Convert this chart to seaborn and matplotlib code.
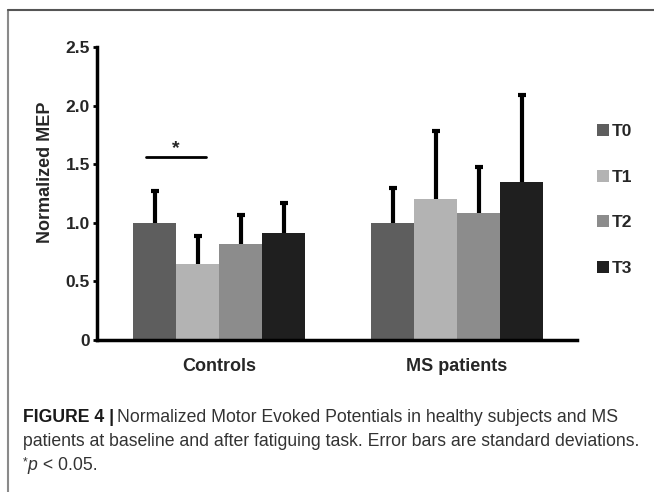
import matplotlib
matplotlib.use("Agg")
import matplotlib.pyplot as plt
import seaborn as sns
import pandas as pd
import numpy as np
from matplotlib.lines import Line2D
from matplotlib.patches import Patch

groups = ["Controls", "MS patients"]
times = ["T0", "T1", "T2", "T3"]
means_controls = [1.00, 0.65, 0.82, 0.91]
means_ms = [1.00, 1.20, 1.08, 1.345]
sd_controls = [0.27, 0.235, 0.25, 0.255]
sd_ms = [0.30, 0.58, 0.395, 0.745]
colors = ["#5e5e5e", "#b3b3b3", "#8c8c8c", "#1f1f1f"]
yticks = [0, 0.5, 1.0, 1.5, 2.0, 2.5]
ytick_labels = ["0", "0.5", "1.0", "1.5", "2.0", "2.5"]
sig_y = 1.56

sns.set_theme(style="white")
plt.rcParams["font.family"] = ["Liberation Sans", "DejaVu Sans"]

rows = []
for g, ms, sds in [(groups[0], means_controls, sd_controls), (groups[1], means_ms, sd_ms)]:
    for t, m, s in zip(times, ms, sds):
        rows.append({"group": g, "time": t, "mean": m, "sd": s})
df = pd.DataFrame(rows)

W, H = 654, 492
fig = plt.figure(figsize=(W / 100, H / 100), dpi=100)
ax = fig.add_axes([97 / W, (H - 340) / H, 480 / W, 293 / H])

sns.barplot(data=df, x="group", y="mean", hue="time", hue_order=times, order=groups,
            palette=colors, width=0.723, errorbar=None, linewidth=0, ax=ax, legend=False)

# error bars (upper only)
bar_info = []
for p in ax.patches:
    if p.get_width() > 0:
        bar_info.append((p.get_x() + p.get_width() / 2, p.get_height()))
bar_info.sort()
ordered = df.sort_values(["group", "time"]).reset_index(drop=True)
for (cx, h), (_, r) in zip(bar_info, ordered.iterrows()):
    cont = ax.errorbar(cx, r["mean"], yerr=[[0], [r["sd"]]], fmt="none", ecolor="black",
                       elinewidth=3, capsize=3.2, capthick=3)
    cont[1][0].set_visible(False)

ax.set_xlim(-0.513, 1.504)
ax.set_ylim(0, 2.5)
ax.set_yticks(yticks)
ax.set_yticklabels(ytick_labels, fontsize=12.5, fontweight="bold")
ax.set_xticks([0, 1])
ax.set_xticklabels(groups, fontsize=13, fontweight="bold")
ax.tick_params(axis="x", length=0, pad=13)
ax.tick_params(axis="y", length=3, width=2, direction="out", left=True, pad=2, color="black")
ax.set_xlabel("")
ax.set_ylabel("")
for s in ["top", "right"]:
    ax.spines[s].set_visible(False)
for s in ["left", "bottom"]:
    ax.spines[s].set_linewidth(2.5)
    ax.spines[s].set_color("black")
ax.set_facecolor("white")

# significance line
c0 = bar_info[0][0]
c1 = bar_info[1][0]
ax.plot([c0 - 0.035, c1 + 0.035], [sig_y, sig_y], color="black", lw=2)
ax.text((c0 + c1) / 2, sig_y + 0.0, "*", ha="center", va="bottom", fontsize=14, fontweight="bold")

# y label
fig.text(45 / W, 1 - 172 / H, "Normalized MEP", rotation=90, ha="center", va="center",
         fontsize=13, fontweight="bold")

# legend
handles = [Patch(facecolor=c, edgecolor="none") for c in colors]
leg = fig.legend(handles, times, loc="upper left", bbox_to_anchor=(597 / W, 1 - 124 / H),
                 frameon=False, handlelength=0.7, handleheight=0.7, handletextpad=0.15,
                 labelspacing=1.75, prop={"weight": "bold", "size": 12.5},
                 borderpad=0, borderaxespad=0)

# frame lines
fig.add_artist(Line2D([8 / W, 8 / W], [0, 1 - 10 / H], color="#8a8a8a", lw=1.5))
fig.add_artist(Line2D([8 / W, 1], [1 - 10 / H, 1 - 10 / H], color="#555555", lw=1.5))

# caption, font size fitted so the second line spans the reference width
cap_font = ["Liberation Sans", "DejaVu Sans"]
line1_rest = "Normalized Motor Evoked Potentials in healthy subjects and MS"
line2 = "patients at baseline and after fatiguing task. Error bars are standard deviations."
fig.canvas.draw()
r = fig.canvas.get_renderer()
probe = fig.text(0, 0, line2, fontsize=10, family=cap_font)
wprobe = probe.get_window_extent(renderer=r).width
probe.remove()
cap_size = 10 * 617 / wprobe
x0 = 23 / W
t1 = fig.text(x0, 1 - 418 / H, "FIGURE 4 |", fontsize=cap_size, fontweight="bold",
              family=cap_font, va="center", color="#1a1a1a")
bb = t1.get_window_extent(renderer=r)
fig.text((bb.x1 + 3) / W, 1 - 418 / H, line1_rest,
         fontsize=cap_size, family=cap_font, va="center", color="#333333")
fig.text(x0, 1 - 442 / H, line2, fontsize=cap_size, family=cap_font, va="center", color="#333333")
ts = fig.text(x0, 1 - 462 / H, "*", fontsize=cap_size * 0.7, family=cap_font, va="center",
              color="#333333")
bb = ts.get_window_extent(renderer=r)
tp = fig.text(bb.x1 / W, 1 - 466 / H, "p", fontsize=cap_size, family=cap_font, style="italic",
              va="center", color="#333333")
bb = tp.get_window_extent(renderer=r)
fig.text((bb.x1 + 1) / W, 1 - 466 / H, " < 0.05.", fontsize=cap_size, family=cap_font,
         va="center", color="#333333")

fig.savefig("out.png", dpi=100, facecolor="white")
